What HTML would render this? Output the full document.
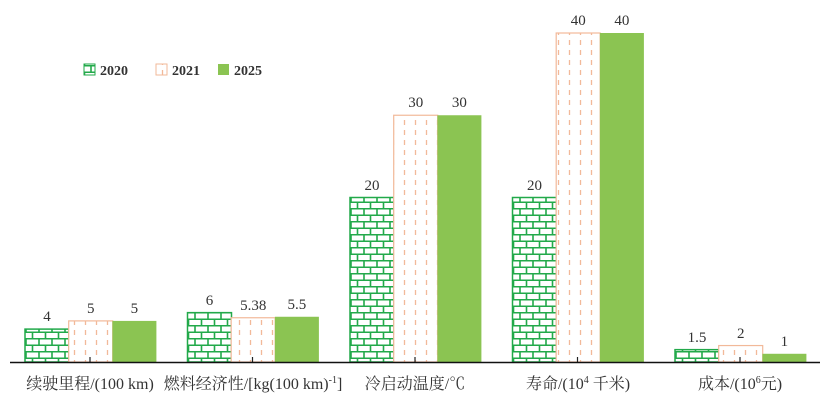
<!DOCTYPE html><html><head><meta charset="utf-8"><style>body{margin:0;background:#fff}svg{display:block}text{font-family:"Liberation Serif","Noto Serif CJK SC",serif;fill:#333}</style></head><body>
<svg width="832" height="408" viewBox="0 0 832 408">
<defs>
<pattern id="brick" width="13" height="13" patternUnits="userSpaceOnUse" x="25" y="0">
<rect width="13" height="13" fill="#fff"/>
<path d="M0 0.75H13M0 7.25H13M1 0V6.5M7.5 6.5V13" stroke="#22a94a" stroke-width="1.6"/>
</pattern>
<pattern id="dash" width="11" height="10" patternUnits="userSpaceOnUse" x="3">
<rect width="11" height="10" fill="#fff"/>
<path d="M5.5 0V5" stroke="#f2b999" stroke-width="1.3"/>
</pattern>
</defs>
<g stroke="#22a94a" stroke-width="1.5" fill="url(#brick)">
<rect x="25" y="329.1" width="44" height="32.9"/>
<rect x="187.5" y="312.65" width="44" height="49.35"/>
<rect x="350" y="197.5" width="44" height="164.5"/>
<rect x="512.5" y="197.5" width="44" height="164.5"/>
<rect x="675" y="349.66" width="44" height="12.34"/>
</g>
<g stroke="#f2b999" stroke-width="1.2" fill="url(#dash)">
<rect x="68.7" y="320.9" width="44" height="41.1"/>
<rect x="231.2" y="317.75" width="44" height="44.25"/>
<rect x="393.7" y="115.25" width="44" height="246.75"/>
<rect x="556.2" y="33" width="44" height="329"/>
<rect x="718.7" y="345.55" width="44" height="16.45"/>
</g>
<g fill="#8bc452">
<rect x="112.4" y="320.9" width="44" height="41.1"/>
<rect x="274.9" y="316.76" width="44" height="45.24"/>
<rect x="437.4" y="115.25" width="44" height="246.75"/>
<rect x="599.9" y="33" width="44" height="329"/>
<rect x="762.4" y="353.78" width="44" height="8.22"/>
</g>
<g font-size="15" text-anchor="middle">
<text x="47" y="321">4</text><text x="90.7" y="313">5</text><text x="134.4" y="313">5</text>
<text x="209.5" y="305">6</text><text x="253.2" y="310">5.38</text><text x="296.9" y="309">5.5</text>
<text x="372" y="190">20</text><text x="415.7" y="107">30</text><text x="459.4" y="107">30</text>
<text x="534.5" y="190">20</text><text x="578.2" y="25">40</text><text x="621.9" y="25">40</text>
<text x="697" y="342">1.5</text><text x="740.7" y="338">2</text><text x="784.4" y="346">1</text>
</g>
<g stroke="#222" stroke-width="1.2">
<line x1="90" y1="357" x2="90" y2="362"/><line x1="252.5" y1="357" x2="252.5" y2="362"/>
<line x1="415" y1="357" x2="415" y2="362"/><line x1="577.5" y1="357" x2="577.5" y2="362"/>
<line x1="740" y1="357" x2="740" y2="362"/>
</g>
<line x1="10" y1="362.5" x2="820" y2="362.5" stroke="#111" stroke-width="1.6"/>
<rect x="84" y="64" width="11" height="11" fill="url(#brick)" stroke="#22a94a"/>
<text x="100" y="75" font-size="14" font-weight="bold">2020</text>
<rect x="156" y="64" width="11" height="11" fill="url(#dash)" stroke="#f2b999"/>
<text x="172" y="75" font-size="14" font-weight="bold">2021</text>
<rect x="218" y="64" width="11" height="11" fill="#8bc452"/>
<text x="234" y="75" font-size="14" font-weight="bold">2025</text>
<g font-size="16">
<text x="90" y="389" text-anchor="middle">续驶里程/(100 km)</text>
<text x="253" y="389" text-anchor="middle">燃料经济性/[kg(100 km)<tspan dy="-6" font-size="10">-1</tspan><tspan dy="6">]</tspan></text>
<text x="415" y="389" text-anchor="middle">冷启动温度/℃</text>
<text x="578" y="389" text-anchor="middle">寿命/(10<tspan dy="-6" font-size="10">4</tspan><tspan dy="6"> 千米)</tspan></text>
<text x="740" y="389" text-anchor="middle">成本/(10<tspan dy="-6" font-size="10">6</tspan><tspan dy="6">元)</tspan></text>
</g>
</svg></body></html>
